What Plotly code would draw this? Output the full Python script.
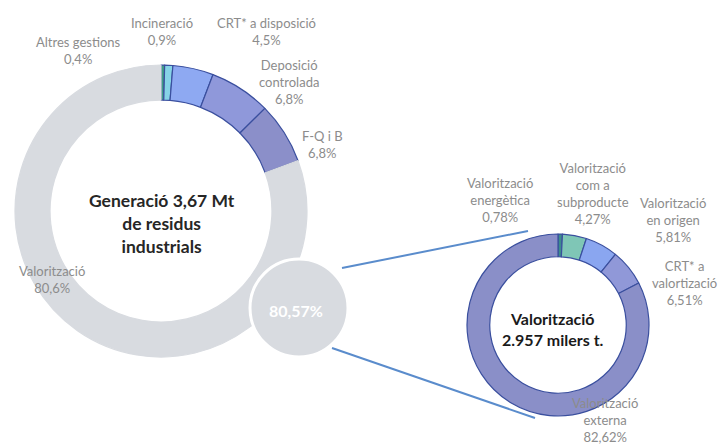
import plotly.graph_objects as go

W, H = 720, 445

# ---- data ----
main_labels = ["Altres gestions", "Incineració", "CRT* a disposició",
               "Deposició controlada", "F-Q i B", "Valorització"]
main_values = [0.4, 0.9, 4.5, 6.8, 6.8, 80.6]
main_colors = ["#3f9e84", "#86d3e6", "#8ea9f2", "#8f98da", "#8b8fc9", "#d8dbe0"]
main_lines = ["#3a4f9e", "#3a4f9e", "#3a4f9e", "#3a4f9e", "#3a4f9e", "#d8dbe0"]

sub_labels = ["Valorització energètica", "Valorització com a subproducte",
              "Valorització en origen", "CRT* a valorització", "Valorització externa"]
sub_values = [0.78, 4.27, 5.81, 6.51, 82.62]
sub_colors = ["#3c8c8c", "#7fc6b6", "#8aa6f0", "#9098d8", "#8a8fc8"]

main_text = ["Altres gestions<br>0,4%", "Incineració<br>0,9%", "CRT* a disposició<br>4,5%",
             "Deposició<br>controlada<br>6,8%", "F-Q i B<br>6,8%", "Valorització<br>80,6%"]
sub_text = ["Valorització<br>energètica<br>0,78%", "Valorització<br>com a<br>subproducte<br>4,27%",
            "Valorització<br>en origen<br>5,81%", "CRT* a<br>valortizació<br>6,51%",
            "Valorització<br>externa<br>82,62%"]
main_title = "Generació 3,67 Mt<br>de residus<br>industrials"
sub_title = "Valorització<br>2.957 milers t."
share_text = "80,57%"

# ---- layout helpers (pixel -> paper) ----
def px(x):
    return x / W

def py(y):
    return 1 - y / H

fig = go.Figure()

# main donut: centre (161,211), r 146
fig.add_trace(go.Pie(
    labels=main_labels, values=main_values, sort=False, direction="clockwise",
    rotation=0, hole=0.76, textinfo="none", hoverinfo="label+percent",
    marker=dict(colors=main_colors, line=dict(color=main_lines, width=1.2)),
    domain=dict(x=[px(15), px(307)], y=[py(357), py(65)]),
    showlegend=False,
))

# sub donut: centre (558,325), r 91
fig.add_trace(go.Pie(
    labels=sub_labels, values=sub_values, sort=False, direction="clockwise",
    rotation=0, hole=0.75, textinfo="none", hoverinfo="label+percent",
    marker=dict(colors=sub_colors, line=dict(color="#3a4f9e", width=1.2)),
    domain=dict(x=[px(467), px(649)], y=[py(416), py(234)]),
    showlegend=False,
))

shapes = [
    dict(type="line", xref="paper", yref="paper", x0=px(342), y0=py(268), x1=px(528), y1=py(231),
         line=dict(color="#5a8ccc", width=2)),
    dict(type="line", xref="paper", yref="paper", x0=px(332), y0=py(348), x1=px(535), y1=py(418),
         line=dict(color="#5a8ccc", width=2)),
    dict(type="circle", xref="paper", yref="paper", x0=px(250), y0=py(357), x1=px(348), y1=py(259),
         fillcolor="#d8dbe0", line=dict(color="white", width=3), layer="above"),
]

lab_font = dict(family="Lato, 'Open Sans', sans-serif", size=13, color="#8c8c8c")
annotations = []
main_pos = [(78, 50), (162, 31), (266, 31), (289, 82), (322, 144), (52, 279)]
for t, (x, y) in zip(main_text, main_pos):
    annotations.append(dict(text=t, x=px(x), y=py(y), xref="paper", yref="paper",
                            showarrow=False, font=lab_font, xanchor="center", yanchor="middle"))
sub_pos = [(500, 200), (593, 193), (673, 220), (684, 283), (605, 420)]
for t, (x, y) in zip(sub_text, sub_pos):
    annotations.append(dict(text=t, x=px(x), y=py(y), xref="paper", yref="paper",
                            showarrow=False, font=lab_font, xanchor="center", yanchor="middle"))

annotations.append(dict(text="<b>" + main_title + "</b>", x=px(162), y=py(223), xref="paper", yref="paper",
                        showarrow=False, xanchor="center", yanchor="middle",
                        font=dict(family="Lato, sans-serif", size=17.5, color="#262626")))
annotations.append(dict(text="<b>" + sub_title + "</b>", x=px(553), y=py(329), xref="paper", yref="paper",
                        showarrow=False, xanchor="center", yanchor="middle",
                        font=dict(family="Lato, sans-serif", size=16, color="#1a1a1a")))
annotations.append(dict(text="<b>" + share_text + "</b>", x=px(296), y=py(310), xref="paper", yref="paper",
                        showarrow=False, xanchor="center", yanchor="middle",
                        font=dict(family="Lato, sans-serif", size=16, color="white")))

fig.update_layout(
    width=W, height=H, margin=dict(l=0, r=0, t=0, b=0),
    paper_bgcolor="white", plot_bgcolor="white",
    shapes=shapes, annotations=annotations,
)

fig.write_html("out.html", config={"displayModeBar": False},
               post_script="document.body.style.margin='0';")
